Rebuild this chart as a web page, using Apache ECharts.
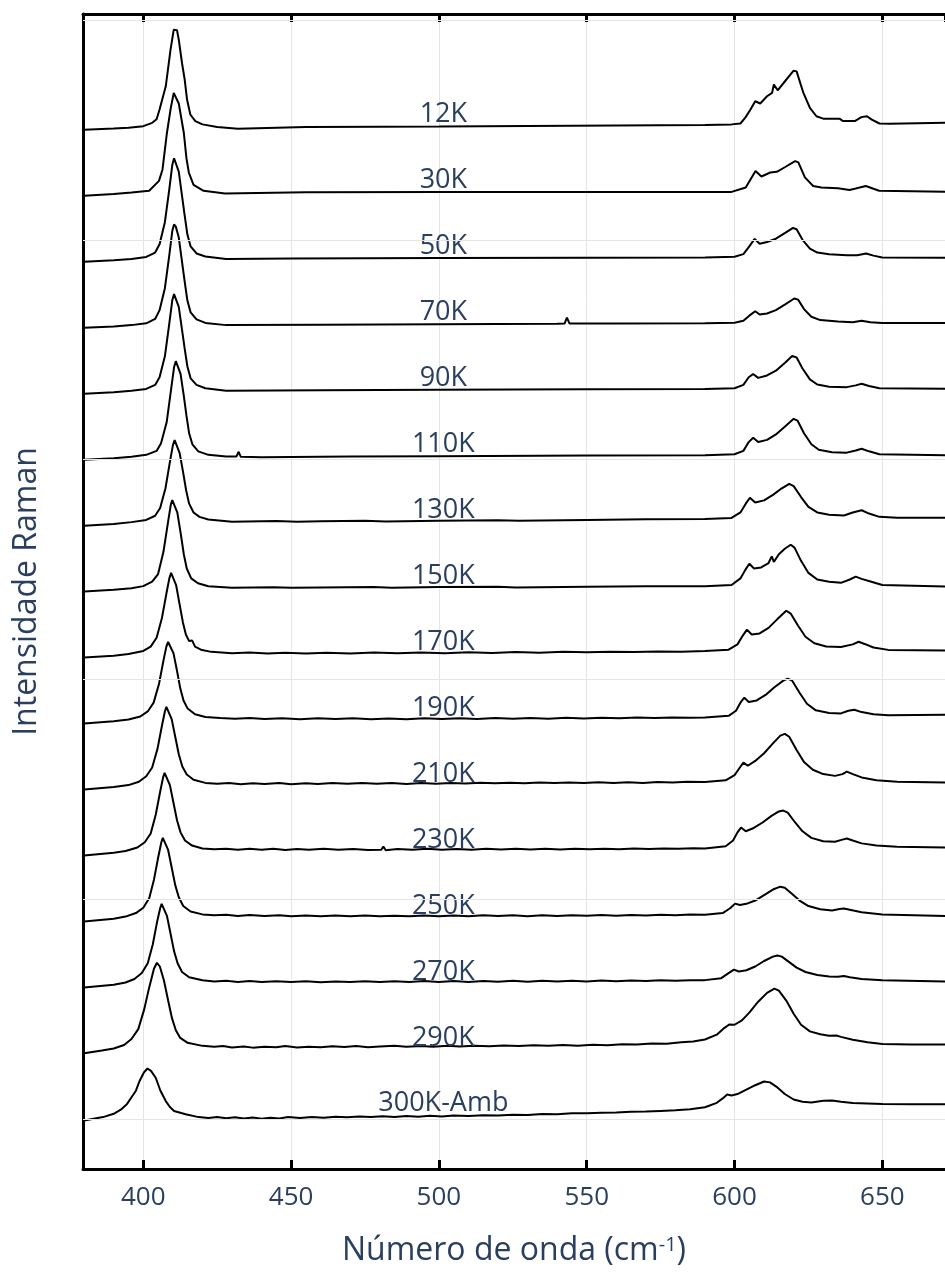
<!DOCTYPE html>
<html>
<head>
<meta charset="utf-8">
<script src="https://cdn.jsdelivr.net/npm/echarts@6/dist/echarts.min.js"></script>
<style>
  html, body { margin: 0; padding: 0; background: #ffffff; }
  #chart { width: 945px; height: 1272px; }
</style>
</head>
<body>
<div id="chart"></div>
<script>
// Raman spectra, temperature series; each spectrum is [wavenumber (cm-1), intensity (a.u.)]
const temperatures = ['12K', '30K', '50K', '70K', '90K', '110K', '130K', '150K', '170K',
  '190K', '210K', '230K', '250K', '270K', '290K', '300K-Amb'];

// vertical stacking step between consecutive spectra (a.u.)
const stackStep = 30;
const gridValues = [0, 100, 200, 300, 400, 500];
const labelWavenumber = 501.5;

const s12K = [[380,0],[390,0.6],[395,1.0],[400,1.7],[403,3.2],[404.5,4.8],[405.5,9.3],[407.6,19.8],[409.2,36.4],[410.3,45.6],[410.8,46.2],[411.4,45.3],[412,41],[413.1,30.3],[414,22.9],[414.8,13.8],[415.9,7],[417.6,4],[420,2.5],[425,1.3],[432,0.5],[455,1.3],[480,1.4],[500,1.5],[530,1.8],[560,2.0],[590,2.2],[599,2.5],[602,2.9],[603.7,5.7],[605.4,9.3],[607,13.0],[608.7,12.0],[611,15.3],[612.7,16.8],[613.3,20.6],[614.6,18.0],[617,22],[620,26.9],[621,26.6],[623.3,16.8],[625.5,10.0],[627.7,6.2],[630,5.1],[635.5,5.1],[636.7,4.0],[640.7,4.0],[642.9,5.8],[644.8,6.2],[646.3,4.8],[649,2.9],[652.4,2.8],[672,3.3]];
const s30K = [[380,0],[390,0.8],[396,1.5],[402,2.3],[405.3,6.8],[406.5,12],[408,28.7],[409.3,40],[410.3,46.8],[410.9,46.4],[412,42],[413.7,28.7],[414.6,17],[415.4,10.6],[417,5],[420.4,2.3],[427.6,1.1],[455,1.6],[500,1.7],[550,1.8],[590,1.8],[599,1.8],[603.8,3.8],[605.5,7.7],[607.1,11.3],[609.1,8.8],[612.1,10.6],[614.3,10.9],[617,13],[620.5,15.8],[621.6,15.2],[623.8,8.4],[626.6,4.5],[629.4,3.8],[635,3.5],[638.9,2.7],[641,3.3],[644.4,4.5],[648.9,2.3],[672,1.8]];
const s50K = [[380,0],[390,0.7],[396,1.3],[401,2.2],[404,4.2],[405.5,8],[407.3,18],[408.8,33],[409.8,44],[410.4,47.1],[411,46.3],[412,41],[413.1,30],[414,21],[414.9,12.5],[416,7],[418,3.8],[421,2.4],[428,1.3],[450,1.5],[500,1.7],[550,1.8],[590,2.0],[600,2.3],[603,3.5],[605,7],[606.8,10.4],[608.5,8.2],[611,9],[614,10.5],[617,13],[619.8,15.4],[621,14.8],[623,10],[625.5,6],[628,4.2],[632,3.4],[638,3.0],[641.5,3.0],[644.5,3.8],[647,2.8],[650,2.0],[672,1.8]];
const s70K = [[380,0],[390,0.6],[396,1.2],[401,2.0],[404,4],[405.5,8],[407.3,18],[408.8,33],[409.8,44],[410.4,47],[411,46],[412,41],[413.1,30],[414,21],[414.9,12.5],[416,7],[418,3.8],[421,2.2],[428,1.2],[460,1.4],[500,1.6],[540,1.8],[542.5,1.9],[543.3,4.6],[544.2,1.9],[560,1.9],[590,2.0],[600,2.3],[603,3.2],[605,5.5],[607,7.5],[608.5,6],[611,6.5],[614,8],[617,10.5],[620.2,13.3],[621.5,12.8],[623.5,8.5],[626,5],[629,3.5],[635,2.8],[640,2.5],[643,3.2],[646,2.5],[650,2.2],[672,2.2]];
const s90K = [[380,0],[390,0.7],[396,1.3],[401,2.2],[404,4],[405.5,7.5],[407.3,17],[408.8,32],[409.8,42.5],[410.4,45.3],[411,44.5],[412,39.5],[413.1,29],[414,20.5],[414.9,12.5],[416,7],[418,4],[421,2.5],[428,1.3],[460,1.6],[500,1.8],[550,2.0],[590,2.1],[600,2.5],[603,4],[604.8,7.5],[606.3,9],[608,7.2],[611,8.3],[614,10.5],[617,14],[619.5,17.2],[621,16.5],[623,11.5],[625.5,6.5],[628,4.2],[632,3.2],[638,3.0],[641,3.8],[643,4.5],[645.5,3.5],[649,2.5],[672,2.3]];
const s110K = [[380,0],[390,0.7],[396,1.3],[401,2.2],[404.5,4],[406,7.5],[407.9,17],[409.4,32],[410.4,42],[411,44.8],[411.6,44],[412.6,39],[413.7,29],[414.6,20],[415.5,12],[416.6,7],[418.6,3.8],[422,2.2],[428,1.4],[431.5,1.4],[432.2,3.6],[433,1.3],[440,1.1],[470,1.4],[500,1.6],[550,1.9],[590,2.0],[600,2.5],[603,4],[604.8,8],[606.3,10],[608,8],[611,9],[614,11.5],[617,15],[620,18.6],[621.3,17.8],[623.5,12],[626,7],[628.5,4.5],[633,3.4],[638,3.2],[641,4.2],[643,5],[645.5,3.8],[649,2.5],[672,2.0]];
const s130K = [[380,0],[390,0.8],[396,1.6],[401,2.6],[404,4.5],[405.7,8],[407.5,17],[409,29],[410,36.5],[410.6,38.9],[411.2,38],[412.3,33],[413.5,24],[414.5,16],[415.5,10],[417,6],[419,4],[422,2.8],[430,1.8],[445,2.1],[452,1.8],[460,2],[475,2.2],[482,1.9],[500,2.2],[520,2.5],[527,2.2],[550,2.6],[570,2.9],[590,3.0],[599,3.5],[602,6],[603.8,10],[605.2,12.7],[607,10.5],[610,11.5],[613,14],[616,17],[618.5,19],[620,18],[622.5,13],[625,8.5],[628,6],[632,5],[637,4.6],[640,6],[643,7],[645.5,5.5],[649,4],[655,3.6],[672,3.6]];
const s150K = [[380,0],[390,0.8],[396,1.5],[400,2.5],[403,4.5],[405,8],[406.8,18],[408.3,31],[409.3,39.5],[409.8,41.6],[410.4,41],[411.5,36],[412.7,26],[413.7,17],[414.7,10.5],[416.2,6],[418.5,3.8],[422,2.4],[430,1.7],[444,2.0],[450,1.7],[460,1.9],[478,2.1],[484,1.8],[500,2.1],[520,2.2],[526,1.9],[550,2.2],[570,2.4],[590,2.4],[599,3],[602,6],[603.7,10],[605,12.7],[606.6,10.5],[609,11],[611.5,13],[612.6,16],[613.3,13.5],[615,17],[617,19.5],[619,21.3],[620.3,20],[622.5,14],[625,8.5],[628,5.5],[632,4.5],[636,4],[639,5.5],[641,6.8],[643,5.8],[646,4.6],[650,3],[672,2.3]];
const s170K = [[380,0],[390,0.8],[395,1.6],[400,3],[402.5,5],[404.5,9],[406.3,18],[407.8,29],[408.8,36],[409.4,38.5],[410,38],[411.1,33],[412.3,24],[413.4,16],[414.4,10.5],[415.5,7.5],[416.5,7.8],[417.5,5],[419.5,3.6],[423,2.6],[430,2],[436,2.3],[442,1.9],[448,2.2],[455,1.9],[462,2.2],[470,1.9],[478,2.3],[486,2.0],[494,2.3],[502,2.0],[510,2.4],[518,2.1],[526,2.5],[534,2.2],[542,2.6],[550,2.4],[558,2.7],[566,2.5],[574,2.8],[582,2.7],[590,3.0],[598,3.6],[601,6],[602.8,10],[604.2,12.7],[605.8,10.5],[608.5,11],[611.5,13.5],[614.5,17.5],[617.5,21.3],[619,20],[621.5,14.5],[624,9.5],[627,6.5],[631,5],[636,4.8],[640,6],[642,7.2],[644,6.2],[647,4.6],[652,3.5],[672,3.2]];
const s190K = [[380,0],[390,1],[395,1.8],[399,3.2],[401.5,5.5],[403.5,9.5],[405.3,18],[406.8,28.5],[407.8,35],[408.4,37.1],[409,36.6],[410.2,32],[411.4,24],[412.5,16],[413.6,10.5],[415,6.8],[417.5,4.2],[421,3],[426,2.5],[431,2.2],[436,2.5],[441,2.1],[447,2.4],[453,2.0],[459,2.4],[465,2.1],[471,2.4],[477,2.0],[483,2.3],[489,2.0],[495,2.4],[501,2.1],[507,2.4],[513,2.1],[519,2.5],[525,2.2],[531,2.5],[537,2.2],[543,2.6],[549,2.3],[555,2.6],[561,2.4],[567,2.7],[573,2.5],[579,2.8],[585,2.6],[590,2.8],[598,3.5],[600.5,5.8],[602,9.5],[603.3,11.8],[604.8,9.8],[607.5,10.5],[610.5,13],[613.5,16.5],[616.5,19.5],[618,20.4],[619.5,19.5],[622,14],[624.5,9],[627.5,6],[632,4.8],[636,4.6],[638.5,5.8],[640.5,6.3],[643,5.2],[647,4.2],[652,3.8],[672,4]];
const s210K = [[380,0],[390,1.1],[395,2],[398.5,3.5],[401,6],[403,10],[404.8,18.5],[406.3,29],[407.3,35.5],[407.8,37.6],[408.4,37],[409.6,32],[410.8,24],[412,16],[413.2,10.5],[414.7,6.8],[417,4.4],[421,3],[425,2.6],[429,2.9],[433,2.4],[437,2.8],[441,2.5],[446,2.9],[450,2.4],[455,2.8],[459,2.5],[464,2.9],[469,2.6],[474,3.0],[479,2.6],[484,2.9],[489,2.5],[494,2.9],[499,2.6],[504,3.0],[509,2.7],[514,3.1],[519,2.8],[524,3.1],[529,2.8],[534,3.2],[539,2.9],[544,3.2],[549,2.9],[554,3.3],[559,3.0],[564,3.3],[569,3.0],[574,3.4],[579,3.2],[584,3.5],[590,3.4],[597,4.2],[600,6.5],[601.8,10],[603,12.2],[604.5,10.8],[607,13],[610,16.5],[613,21],[615.5,24.5],[617,25.3],[618.5,24],[621,18],[623.5,12.5],[626.5,9],[630,7],[634,6.2],[636.5,7],[638,8.1],[640,7],[643,5.5],[648,4.2],[655,3.5],[672,3.2]];
const s230K = [[380,0],[390,1.2],[394,2],[398,3.6],[400.5,6],[402.5,10],[404.2,18.5],[405.7,29],[406.7,35.5],[407.2,37.6],[407.8,37],[409,32],[410.2,24],[411.4,16],[412.6,10.5],[414.1,6.8],[416.5,4.5],[420,3.2],[424,2.8],[428,3.1],[432,2.6],[436,3.0],[440,2.6],[444,3.0],[448,2.5],[452,2.9],[456,2.6],[461,3.0],[466,2.6],[471,2.9],[476,2.5],[480.5,2.6],[481.2,4.0],[482,2.4],[486,2.9],[491,2.6],[496,3.0],[501,2.6],[506,2.9],[511,2.6],[516,3.0],[521,2.7],[526,3.1],[531,2.7],[536,3.0],[541,2.7],[546,3.1],[551,2.8],[556,3.1],[561,2.8],[566,3.2],[571,2.9],[576,3.2],[581,3.0],[586,3.3],[590,3.2],[597,4.2],[599.5,6.8],[601,10.5],[602.2,12.7],[603.8,11],[606.5,12.5],[609.5,15],[612.5,18],[615,20],[616.5,20.4],[618,19.5],[620.5,15],[623,11],[626,8],[630,6.5],[634,6.2],[636.5,7.2],[638,7.7],[640,6.8],[643,5.5],[648,4.5],[655,4],[672,3.6]];
const s250K = [[380,0],[390,1.2],[394,2.2],[397.5,3.8],[400,6.2],[402,10.5],[403.6,19],[405.1,29.5],[406.1,36],[406.6,38],[407.2,37.5],[408.4,32.5],[409.6,24.5],[410.8,16.5],[412,11],[413.5,7],[416,4.5],[420,3.2],[424,2.8],[428,3.0],[432,2.5],[436,2.9],[441,2.5],[446,2.8],[450,2.4],[455,2.7],[460,2.3],[465,2.7],[470,2.4],[475,2.7],[480,2.3],[485,2.6],[490,2.3],[495,2.7],[500,2.4],[505,2.7],[510,2.4],[515,2.8],[520,2.5],[525,2.8],[530,2.4],[535,2.8],[540,2.5],[545,2.8],[550,2.6],[555,2.9],[560,2.6],[565,2.9],[570,2.7],[575,3.0],[580,2.8],[585,3.1],[590,3.0],[596,3.8],[598.5,6],[600.2,8.1],[601.8,7.5],[604,8],[607,9.5],[610,12],[613,14.5],[615.5,15.8],[617,15.3],[619.5,12.5],[622,9.5],[625,7],[629,5.5],[633,5],[635.5,5.6],[637,5.9],[639,5.3],[643,4.2],[650,3.2],[672,2.4]];
const s270K = [[380,0],[390,1.2],[394,2.2],[397,3.8],[399.5,6.5],[401.5,11],[403.2,19.5],[404.7,30],[405.7,36],[406.2,38],[406.8,37.5],[408,32.5],[409.2,24.5],[410.4,16.5],[411.6,11],[413.1,7],[415.5,4.6],[420,3.2],[424,2.7],[428,3.0],[432,2.5],[436,2.9],[440,2.4],[445,2.8],[450,2.4],[455,2.8],[460,2.3],[465,2.7],[470,2.4],[475,2.8],[480,2.4],[485,2.8],[490,2.5],[495,2.9],[500,2.5],[505,2.9],[510,2.5],[515,2.9],[520,2.6],[525,3.0],[530,2.6],[535,3.0],[540,2.7],[545,3.0],[550,2.7],[555,3.1],[560,2.8],[565,3.1],[570,2.9],[575,3.2],[580,3.0],[585,3.3],[590,3.3],[595.5,4.2],[598,6.5],[599.8,8.1],[601.5,7.2],[604,7.8],[607,9.5],[610,12],[613,14],[614.5,14.5],[616,14],[618.5,11.5],[621,9],[624,7],[628,5.6],[632,5],[635,4.8],[637,5.2],[639,4.6],[643,3.8],[650,3.2],[672,2.7]];
const s290K = [[380,0],[386,1.3],[390,2.2],[393.5,3.8],[396,6.5],[398.3,11],[400.3,20],[402,30],[403.6,38.5],[404.6,41.2],[405.6,39.5],[407,33],[408.4,24],[409.7,16],[411,10.5],[412.5,7],[415,4.8],[420,3.4],[424,3.0],[427,3.3],[430,2.7],[434,3.1],[437,2.6],[441,3.0],[445,2.8],[448,3.3],[452,2.7],[456,3.0],[460,2.8],[464,3.2],[468,2.9],[472,3.3],[476,2.8],[480,3.1],[485,3.4],[489,3.0],[494,3.3],[498,3.0],[503,3.4],[507,3.1],[512,3.5],[517,3.2],[522,3.6],[527,3.3],[532,3.7],[537,3.4],[542,3.8],[547,3.5],[552,3.9],[557,3.7],[562,4.1],[567,4.0],[572,4.5],[577,4.4],[582,5.0],[586,5.4],[590,6.3],[594,8.5],[596.5,11.5],[598.2,13.1],[600,13],[602.5,15],[605,18.5],[608,23.5],[611,27.5],[613.5,29.4],[615,28.5],[617.5,24],[620,18],[622.5,13],[625.5,10],[629,8.7],[632,8],[634.5,8.1],[636,7.5],[640,6.2],[645,5],[650,4.2],[660,4],[672,4]];
const s300K = [[380,-0.5],[386.4,1.0],[390,2.5],[392.5,4.5],[394.5,7],[395.9,9.8],[397.5,13],[398.7,17.3],[400.2,21.3],[401.4,23.1],[402.6,22],[404.2,18.9],[405.8,13],[407.6,8.3],[409,5.6],[410.4,3.8],[414.3,2.3],[418.7,1.0],[422,0.6],[425,1.0],[428,0.5],[431,0.9],[434,0.4],[437,0.8],[440,0.3],[443,0.7],[446,0.4],[449,1.0],[453,0.6],[457,1.1],[461,0.7],[465,1.2],[469,0.9],[473,1.3],[477,1.0],[481,1.4],[485,1.1],[489,1.5],[493,1.2],[497,1.6],[501,1.3],[505,1.7],[510,1.5],[515,1.9],[520,1.7],[525,2.1],[530,2.0],[535,2.4],[540,2.3],[545,2.7],[550,2.7],[555,3.0],[560,3.1],[565,3.4],[570,3.5],[575,3.8],[580,4.1],[585,4.6],[590,5.5],[594,7.5],[596,9.5],[597.5,11.3],[599,10.8],[601,11.5],[604,13.5],[607,15.5],[610,17.2],[612,16.8],[614.5,14.5],[617,11.5],[620,9],[623,8],[626,7.6],[630,8.4],[633,8.6],[636,8],[640,7.4],[650,7],[660,6.8],[672,6.8]];

const spectra = [s12K, s30K, s50K, s70K, s90K, s110K, s130K, s150K, s170K,
  s190K, s210K, s230K, s250K, s270K, s290K, s300K];

const TEXT = '#2a3f5f';
const FONT = 'Open Sans';
const X_MIN = 379.6, X_MAX = 671.2;

const n = spectra.length;
const offsetOf = i => (n - 1 - i) * stackStep;

const traceSeries = spectra.map((spec, i) => ({
  name: temperatures[i],
  type: 'line',
  data: spec.map(([x, v]) => [x, v + offsetOf(i)]),
  showSymbol: false,
  symbol: 'none',
  smooth: false,
  clip: true,
  z: 3,
  lineStyle: { color: '#000000', width: 2 },
  silent: true
}));

// horizontal grid lines, drawn under the spectra
const gridSeries = {
  type: 'line',
  data: [],
  z: 1,
  silent: true,
  markLine: {
    silent: true,
    symbol: ['none', 'none'],
    label: { show: false },
    lineStyle: { color: '#e5e5e5', width: 1, type: 'solid' },
    data: gridValues.map(v => ({ yAxis: v }))
  }
};

const labelSeries = {
  type: 'scatter',
  z: 4,
  silent: true,
  symbolSize: 0,
  itemStyle: { color: TEXT, opacity: 1 },
  data: temperatures.map((t, i) => ({ name: t, value: [labelWavenumber, offsetOf(i)] })),
  label: {
    show: true,
    position: 'top',
    distance: 2,
    formatter: '{b}',
    color: TEXT,
    textBorderWidth: 0,
    fontFamily: FONT,
    fontSize: 27
  }
};

const chart = echarts.init(document.getElementById('chart'), null, { renderer: 'canvas' });
chart.setOption({
  backgroundColor: '#ffffff',
  animation: false,
  grid: { left: 83, right: -11, top: 14, bottom: 97, containLabel: false },
  xAxis: [{
    type: 'value',
    position: 'bottom',
    min: X_MIN,
    max: X_MAX,
    axisLine: { onZero: false, lineStyle: { color: '#000000', width: 3 } },
    axisTick: { inside: true, length: 9, lineStyle: { color: '#000000', width: 3 } },
    axisLabel: { color: TEXT, fontFamily: FONT, fontSize: 26, margin: 16, showMinLabel: false, showMaxLabel: false },
    splitLine: { show: true, lineStyle: { color: '#e5e5e5', width: 1 } },
    name: 'Número de onda (cm{sup|-1})',
    nameLocation: 'middle',
    nameGap: 66,
    nameTextStyle: {
      color: TEXT, fontFamily: FONT, fontSize: 32,
      rich: { sup: { color: TEXT, fontFamily: FONT, fontSize: 20, verticalAlign: 'top' } }
    }
  }, {
    type: 'value',
    position: 'top',
    min: X_MIN,
    max: X_MAX,
    axisLine: { onZero: false, lineStyle: { color: '#000000', width: 3 } },
    axisTick: { inside: true, length: 8, lineStyle: { color: '#000000', width: 3 } },
    axisLabel: { show: false },
    splitLine: { show: false }
  }],
  yAxis: {
    type: 'value',
    min: -22.6,
    max: 502.7,
    axisLine: { show: true, onZero: false, lineStyle: { color: '#000000', width: 3 } },
    axisTick: { show: false },
    axisLabel: { show: false },
    splitLine: { show: false },
    name: 'Intensidade Raman',
    nameLocation: 'middle',
    nameRotate: 90,
    nameGap: 40,
    nameTextStyle: { color: TEXT, fontFamily: FONT, fontSize: 32 }
  },
  series: [gridSeries, ...traceSeries, labelSeries]
});
</script>
</body>
</html>
